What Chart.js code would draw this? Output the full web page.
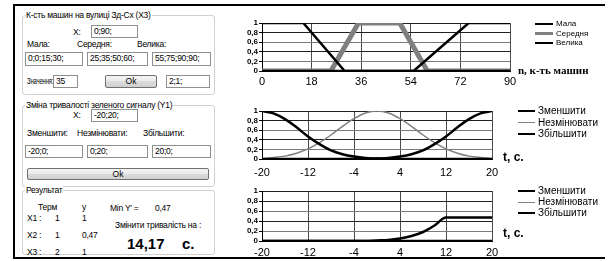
<!DOCTYPE html>
<html>
<head>
<meta charset="utf-8">
<script src="https://cdn.jsdelivr.net/npm/chart.js@4.4.1/dist/chart.umd.min.js"></script>
<style>
body { margin:0; width:610px; height:261px; position:relative; overflow:hidden; background:#fff;
       font-family:"Liberation Sans", Arial, sans-serif; font-size:8.5px; color:#000; }
.a { position:absolute; white-space:nowrap; line-height:10px; }
.lp { letter-spacing:-0.25px; }
.ln { position:absolute; background:#000; }
.gb { position:absolute; border:1px solid #d0d0d0; border-radius:3px; }
.gt { background:#fff; padding:0 1px; }
.tb { position:absolute; box-sizing:border-box; border:1px solid #8e8f8f; background:#fff;
      padding-left:2px; line-height:11px; font-size:8.5px; letter-spacing:-0.25px; }
.btn { position:absolute; box-sizing:border-box; border:1px solid #707070; border-radius:2px; text-align:center;
       background:linear-gradient(#f4f4f4, #ebebeb 50%, #dcdcdc 50%, #d0d0d0); font-size:8.5px; line-height:11px; }
canvas { position:absolute; }
.big { font-weight:bold; font-size:15px; line-height:16px; }
</style>
</head>
<body>

<!-- frame -->
<div class="ln" style="left:13px;top:4px;width:592px;height:2px"></div>
<div class="ln" style="left:13px;top:4px;width:2px;height:255px"></div>
<div class="ln" style="left:13px;top:257px;width:592px;height:2px"></div>

<!-- group 1 -->
<div class="gb" style="left:22px;top:15px;width:191px;height:78px"></div>
<div class="a lp gt" style="left:25px;top:10px">К-сть машин на вулиці Зд-Сх (Х3)</div>
<div class="a lp" style="left:73px;top:27px">X:</div>
<div class="tb" style="left:91px;top:25px;width:47px;height:13px">0;90;</div>
<div class="a lp" style="left:27px;top:39px">Мала:</div>
<div class="a lp" style="left:77px;top:39px">Середня:</div>
<div class="a lp" style="left:137px;top:39px">Велика:</div>
<div class="tb" style="left:25px;top:52px;width:58px;height:14px">0;0;15;30;</div>
<div class="tb" style="left:87px;top:52px;width:61px;height:14px">25;35;50;60;</div>
<div class="tb" style="left:152px;top:52px;width:59px;height:14px">55;75;90;90;</div>
<div class="a lp" style="left:27px;top:76px;transform:scaleX(0.7);transform-origin:left center">Значення:</div>
<div class="tb" style="left:53px;top:75px;width:25px;height:13px">35</div>
<div class="btn" style="left:105px;top:75px;width:52px;height:13px">Ok</div>
<div class="tb" style="left:166px;top:75px;width:44px;height:13px">2;1;</div>

<!-- group 2 -->
<div class="gb" style="left:22px;top:105px;width:191px;height:80px"></div>
<div class="a lp gt" style="left:25px;top:100px">Зміна тривалості зеленого сигналу (Y1)</div>
<div class="a lp" style="left:73px;top:110px">X:</div>
<div class="tb" style="left:91px;top:109px;width:47px;height:13px">-20;20;</div>
<div class="a lp" style="left:27px;top:128px">Зменшити:</div>
<div class="a lp" style="left:77px;top:128px">Незмінювати:</div>
<div class="a lp" style="left:143px;top:128px">Збільшити:</div>
<div class="tb" style="left:25px;top:145px;width:58px;height:13px">-20;0;</div>
<div class="tb" style="left:87px;top:145px;width:61px;height:13px">0;20;</div>
<div class="tb" style="left:152px;top:145px;width:59px;height:13px">20;0;</div>
<div class="btn" style="left:27px;top:168px;width:182px;height:12px;line-height:10px">Ok</div>

<!-- group 3 -->
<div class="gb" style="left:22px;top:190px;width:191px;height:63px"></div>
<div class="a lp gt" style="left:25px;top:185px">Результат</div>
<div class="a lp" style="left:38px;top:202px">Терм</div>
<div class="a lp" style="left:82px;top:202px">у</div>
<div class="a lp" style="left:110px;top:203px">Min Y' =</div>
<div class="a lp" style="left:155px;top:203px">0,47</div>
<div class="a lp" style="left:27px;top:213px">Х1 :</div>
<div class="a lp" style="left:55px;top:213px">1</div>
<div class="a lp" style="left:82px;top:213px">1</div>
<div class="a lp" style="left:115px;top:220px">Змінити тривалість на :</div>
<div class="a lp" style="left:27px;top:230px">Х2 :</div>
<div class="a lp" style="left:55px;top:230px">1</div>
<div class="a lp" style="left:82px;top:230px">0,47</div>
<div class="a lp" style="left:27px;top:247px">Х3 :</div>
<div class="a lp" style="left:55px;top:247px">2</div>
<div class="a lp" style="left:82px;top:247px">1</div>
<div class="a big" style="left:127px;top:236px">14,17</div>
<div class="a big" style="left:182px;top:236px">с.</div>

<!-- charts -->
<canvas id="carsChart" width="300" height="84" style="left:226px;top:8px"></canvas>
<canvas id="termChart" width="282" height="84" style="left:226px;top:96px"></canvas>
<canvas id="resChart" width="282" height="85" style="left:226px;top:176px"></canvas>

<div class="a" style="left:518px;top:64px;font:bold 11px 'Liberation Serif',serif;line-height:12px">n, к-ть машин</div>
<div class="a" style="left:503px;top:151px;font:bold 12px 'Liberation Sans',Arial,sans-serif;line-height:12px">t, с.</div>
<div class="a" style="left:503px;top:227px;font:bold 12px 'Liberation Sans',Arial,sans-serif;line-height:12px">t, с.</div>

<script>
// --- data ---

const yTicks = [0, 0.2, 0.4, 0.6, 0.8, 1];
const yTickLabels = ['0', '0,2', '0,4', '0,6', '0,8', '1'];

// кількість машин (X3)
const carTicks = [0, 18, 36, 54, 72, 90];
const malaX   = [0, 15, 30, 90];
const malaY   = [1, 1, 0, 0];
const seredX  = [0, 25, 35, 50, 60, 90];
const seredY  = [0, 0, 1, 1, 0, 0];
const velykaX = [0, 55, 75, 90];
const velykaY = [0, 0, 1, 1];

// тривалість (Y1)
const tTicks = [-20, -12, -4, 4, 12, 20];
const tX      = [-20, -18, -16, -14, -12, -10, -8, -6, -4, -2, 0, 2, 4, 6, 8, 10, 12, 14, 16, 18, 20];
const zmenshY = [1, 0.95, 0.83, 0.66, 0.47, 0.31, 0.18, 0.10, 0.05, 0.02, 0.01, 0, 0, 0, 0, 0, 0, 0, 0, 0, 0];
const nezminY = [0.01, 0.03, 0.06, 0.12, 0.21, 0.34, 0.50, 0.68, 0.84, 0.96, 1, 0.96, 0.84, 0.68, 0.50, 0.34, 0.21, 0.12, 0.06, 0.03, 0.01];
const zbilshY = [0, 0, 0, 0, 0, 0, 0, 0, 0, 0, 0.01, 0.02, 0.05, 0.10, 0.18, 0.31, 0.47, 0.66, 0.83, 0.95, 1];

// результат
const resZmenshY = [0, 0, 0, 0, 0, 0, 0, 0, 0, 0, 0, 0, 0, 0, 0, 0, 0, 0, 0, 0, 0];
const resNezminY = [0, 0, 0, 0, 0, 0, 0, 0, 0, 0, 0, 0, 0, 0, 0, 0, 0, 0, 0, 0, 0];
const resZbilshY = [0, 0, 0, 0, 0, 0, 0, 0, 0, 0, 0.01, 0.02, 0.05, 0.10, 0.18, 0.31, 0.47, 0.47, 0.47, 0.47, 0.47];

// --- helpers ---

function lineDs(label, xs, ys, color, width, order, smooth) {
    return {
        label,
        data: xs.map((x, i) => ({ x, y: ys[i] })),
        borderColor: color,
        borderWidth: width,
        pointRadius: 0,
        fill: false,
        order,
        tension: 0,
        cubicInterpolationMode: smooth ? 'monotone' : 'default',
    };
}

function makeOptions(xMin, xMax, xTickVals, labelPad, xAxisH) {
    return {
        responsive: false,
        animation: false,
        layout: { padding: { left: 0, top: 15, right: 16, bottom: 0 } },
        plugins: { legend: { display: false }, tooltip: { enabled: false } },
        scales: {
            x: {
                type: 'linear',
                min: xMin,
                max: xMax,
                afterBuildTicks: s => { s.ticks = xTickVals.map(v => ({ value: v })); },
                afterFit: s => { s.height = xAxisH; },
                ticks: {
                    color: '#000',
                    font: { family: 'Liberation Sans', size: 11 },
                    padding: labelPad,
                    maxRotation: 0,
                    autoSkip: false,
                    callback: v => String(v),
                },
                grid: { color: '#4a4a4a', drawTicks: false },
                border: { color: '#000' },
            },
            y: {
                min: 0,
                max: 1,
                afterBuildTicks: s => { s.ticks = yTicks.map(v => ({ value: v })); },
                afterFit: s => { s.width = 36; },
                ticks: {
                    color: '#000',
                    font: { family: 'Liberation Sans', size: 8, weight: 'bold' },
                    padding: 1,
                    autoSkip: false,
                    callback: (v, i) => yTickLabels[i],
                },
                grid: {
                    color: ctx => (ctx.tick && (ctx.tick.value === 0.2 || ctx.tick.value === 0.6)) ? '#7a7a7a' : '#222',
                    tickLength: 3,
                    tickColor: '#000',
                },
                border: { color: '#000' },
            },
        },
    };
}

// html legend built from the chart's datasets
function htmlLegend(chart, left, textLeft, firstY, step, fontSize) {
    chart.data.datasets.forEach((ds, i) => {
        const cy = firstY + i * step;
        const h = Math.min(3, Math.max(1, Math.round(ds.borderWidth * 0.7)));
        const line = document.createElement('div');
        line.className = 'ln';
        line.style.cssText = `left:${left}px;top:${Math.round(cy - h / 2)}px;width:${textLeft - left - 3}px;height:${h}px;background:${ds.borderColor}`;
        document.body.appendChild(line);
        const txt = document.createElement('div');
        txt.className = 'a';
        txt.textContent = ds.label;
        txt.style.cssText = `left:${textLeft}px;top:${cy - 6}px;font-size:${fontSize}px;line-height:12px`;
        document.body.appendChild(txt);
    });
}

// --- charts ---

const carsChart = new Chart(document.getElementById('carsChart'), {
    type: 'line',
    data: {
        datasets: [
            lineDs('Мала', malaX, malaY, '#000', 2.5, 0, false),
            lineDs('Середня', seredX, seredY, '#808080', 5, 1, false),
            lineDs('Велика', velykaX, velykaY, '#000', 2.5, 0, false),
        ]
    },
    options: makeOptions(0, 90, carTicks, 4, 21),
});

const termChart = new Chart(document.getElementById('termChart'), {
    type: 'line',
    data: {
        datasets: [
            lineDs('Зменшити', tX, zmenshY, '#000', 2.5, 0, true),
            lineDs('Незмінювати', tX, nezminY, '#808080', 1.5, 1, true),
            lineDs('Збільшити', tX, zbilshY, '#000', 2.5, 0, true),
        ]
    },
    options: makeOptions(-20, 20, tTicks, 7, 21),
});

const resChart = new Chart(document.getElementById('resChart'), {
    type: 'line',
    data: {
        datasets: [
            lineDs('Зменшити', tX, resZmenshY, '#000', 2.5, 1, true),
            lineDs('Незмінювати', tX, resNezminY, '#808080', 1.5, 2, true),
            lineDs('Збільшити', tX, resZbilshY, '#000', 2.5, 0, true),
        ]
    },
    options: makeOptions(-20, 20, tTicks, 5, 20),
});

htmlLegend(carsChart, 535, 556, 24, 9.5, 8);
htmlLegend(termChart, 518, 538, 111, 11.5, 10);
htmlLegend(resChart, 518, 538, 191, 11, 10);
</script>
</body>
</html>
